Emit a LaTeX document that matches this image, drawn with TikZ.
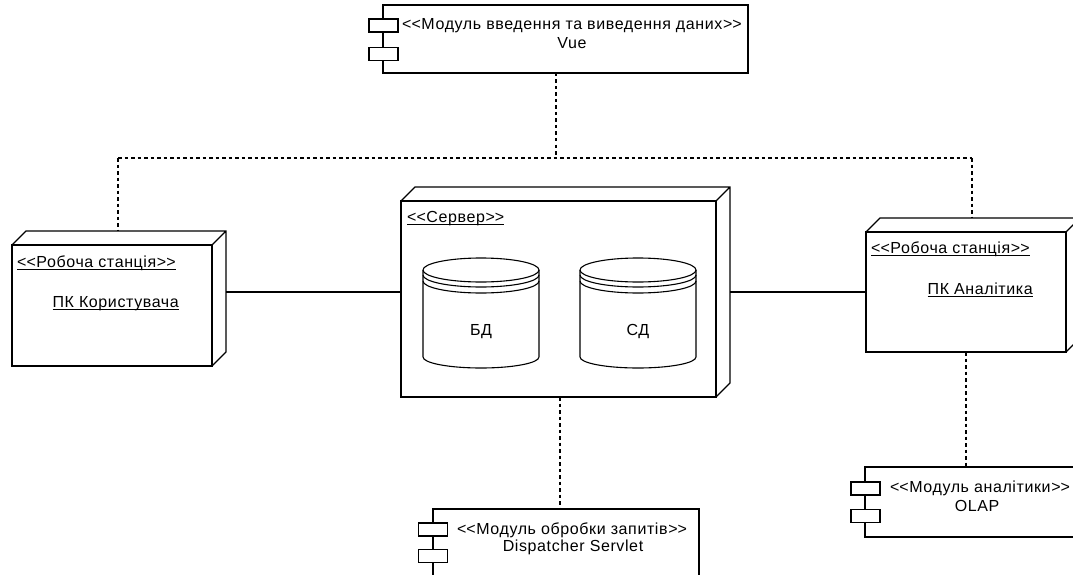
\documentclass[tikz,border=0pt]{standalone}
\usepackage{fontspec}
\setmainfont{Liberation Sans}[LetterSpace=3.8]
% stereotype brackets kept apart so they are not turned into guillemets
\newcommand\stereo[1]{<\kern0pt<#1>\kern0pt>}
% underline set a little below the baseline
\newcommand\undl[1]{\setbox0\hbox{#1}\rlap{\rule[-3pt]{\wd0}{0.9pt}}\box0}
% back edges of a 3D deployment node drawn round its front face
\newcommand\boxdepth[1]{%
  \draw[edge] (#1.north west) -- ++(14pt,14pt) -- ([shift={(14pt,14pt)}]#1.north east)
    -- ([shift={(14pt,14pt)}]#1.south east) -- (#1.south east)
    (#1.north east) -- ++(14pt,14pt);}
% data store cylinder with two rims under its lid
\newcommand\datastore[1]{%
  \draw[edge, fill=white] (#1-58,270) -- (#1-58,357)
    arc[start angle=180, end angle=360, x radius=58pt, y radius=11pt]
    -- (#1+58,270)
    arc[start angle=0, end angle=180, x radius=58pt, y radius=12pt] -- cycle;
  \draw[edge] (#1-58,270) arc[start angle=180, end angle=360, x radius=58pt, y radius=12pt];
  \draw[edge] (#1-58,275) arc[start angle=180, end angle=360, x radius=58pt, y radius=12pt];
  \draw[edge] (#1-58,281) arc[start angle=180, end angle=360, x radius=58pt, y radius=12pt];}
\begin{document}
\begin{tikzpicture}[x=1pt, y=-1pt,
  edge/.style={draw=black, line width=1.1pt},
  dep/.style={edge, dash pattern=on 3.5pt off 3pt},
  face/.style={draw=black, line width=1.1pt, fill=white, inner sep=0pt, outer sep=0pt},
  port/.style={face, minimum width=29pt, minimum height=13pt},
  txt/.style={inner sep=0pt, font=\fontsize{16pt}{19pt}\selectfont},
]
\useasboundingbox (0,0) rectangle (1073,575);
\clip (0,0) rectangle (1073,575);

% ---- deployment nodes (front faces) ----
\node[face, minimum width=200pt, minimum height=121pt] (ws1) at (112,305.5) {};
\boxdepth{ws1}
\node[face, minimum width=315pt, minimum height=196pt] (srv) at (558.5,299) {};
\boxdepth{srv}
\node[face, minimum width=200pt, minimum height=120pt] (ws2) at (966,292) {};
\boxdepth{ws2}

% ---- components ----
\node[face, minimum width=365pt, minimum height=68pt] (top) at (565.5,39) {};
\node[port] (topa) at (383.5,25.5) {};
\node[port] (topb) at (383.5,54) {};

\node[face, minimum width=266pt, minimum height=111pt] (disp) at (566,564.5) {};
\node[port] (dispa) at (433,529.5) {};
\node[port] (dispb) at (433,556) {};

\node[face, minimum width=235pt, minimum height=70pt] (olap) at (982.5,502) {};
\node[port] (olapa) at (865.5,488.5) {};
\node[port] (olapb) at (865.5,516) {};

% ---- data stores inside the server ----
\datastore{481}
\datastore{638}

% ---- labels ----
\node[txt, anchor=base] (toplbl) at (572,30) {\stereo{Модуль введення та виведення даних}};
\node[txt, anchor=base] (topname) at (572,49) {Vue};

\node[txt, anchor=base west] (ws1st) at (17,267) {\undl{\stereo{Робоча станція}}};
\node[txt, anchor=base east] (ws1nm) at (179,307) {\undl{ПК Користувача}};

\node[txt, anchor=base west] (srvst) at (407,222) {\undl{\stereo{Сервер}}};
\node[txt, anchor=base] (db) at (481,335) {БД};
\node[txt, anchor=base] (sd) at (638,335) {СД};

\node[txt, anchor=base west] (ws2st) at (871,253) {\undl{\stereo{Робоча станція}}};
\node[txt, anchor=base east] (ws2nm) at (1033,294) {\undl{ПК Аналітика}};

\node[txt, anchor=base] (displbl) at (572,534) {\stereo{Модуль обробки запитів}};
\node[txt, anchor=base] (dispname) at (573,551) {Dispatcher Servlet};

\node[txt, anchor=base] (olaplbl) at (980,492) {\stereo{Модуль аналітики}};
\node[txt, anchor=base] (olapname) at (977,511) {OLAP};

% ---- connectors ----
\coordinate (jm) at (556,158);
\coordinate (jl) at (118,158);
\coordinate (jr) at (972,158);
\coordinate (lk) at (0,292);
\path ([yshift=14pt]ws1.north) coordinate (ws1back);
\path ([yshift=14pt]ws2.north) coordinate (ws2back);
\path ([xshift=14pt]ws1.east) coordinate (ws1side);
\path ([xshift=14pt]srv.east) coordinate (srvside);
\path ([xshift=1.5pt]srv.south) coordinate (srvfoot);

\draw[dep] (top.south -| jm) -- (jm);
\draw[dep] (jl) -- (jr);
\draw[dep] (jl) -- (jl |- ws1back);
\draw[dep] (jr) -- (jr |- ws2back);
\draw[dep] (srvfoot) -- (srvfoot |- disp.north);
\draw[dep] (ws2.south) -- (ws2.south |- olap.north);

\draw[edge] (ws1side |- lk) -- (srv.west |- lk);
\draw[edge] (srvside |- lk) -- (ws2.west |- lk);
\end{tikzpicture}
\end{document}
